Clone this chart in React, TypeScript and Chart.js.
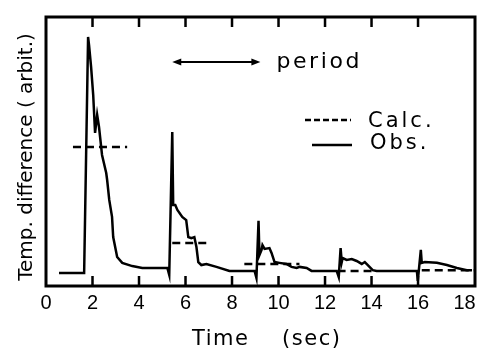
import React, { useEffect, useRef } from "react";
import { Chart, registerables } from "chart.js";

Chart.register(...registerables);

// Observed temperature difference (arbitrary units) vs time (sec)
const obsTime = [
  0.56, 1.59, 1.64, 1.81, 1.85, 1.94, 2.03, 2.11, 2.2, 2.28, 2.41, 2.59, 2.63, 2.72, 2.84, 2.89,
  3.06, 3.28, 3.71, 4.14, 5.22, 5.3, 5.43, 5.47, 5.56, 5.65, 5.86, 6.03, 6.12, 6.25, 6.38, 6.47,
  6.55, 6.68, 6.9, 7.33, 7.89, 8.97, 9.05, 9.14, 9.18, 9.27, 9.31, 9.4, 9.61, 9.7, 9.83, 10.04,
  10.34, 10.56, 10.78, 10.91, 11.21, 11.42, 12.5, 12.59, 12.67, 12.72, 12.76, 12.93, 13.15, 13.36,
  13.58, 13.71, 13.84, 14.05, 14.22, 15.95, 15.99, 16.12, 16.16, 16.29, 16.81, 17.24, 17.67, 18.1,
  18.32,
];
const obsValue = [
  4.8, 4.8, 4.8, 92.6, 89.6, 81.4, 71.0, 56.9, 63.6, 59.1, 48.7, 42.0, 39.4, 32.0, 25.7, 18.2,
  10.8, 8.6, 7.4, 6.7, 6.7, 4.1, 57.2, 30.1, 30.1, 28.3, 25.7, 24.5, 18.2, 17.8, 18.2, 14.5,
  8.9, 7.8, 8.2, 7.1, 5.6, 5.6, 3.0, 24.2, 11.5, 13.4, 15.2, 13.8, 14.1, 12.3, 8.9, 8.6,
  8.2, 7.1, 6.7, 7.1, 6.7, 5.6, 5.6, 3.3, 14.1, 8.9, 10.4, 9.7, 10.0, 9.3,
  8.2, 8.9, 7.8, 5.9, 5.6, 5.6, 1.9, 13.4, 8.6, 8.9, 8.6, 7.8, 6.7, 5.9,
  5.9,
];

// Calculated levels (dashed horizontal segments)
const calcStart = [1.16, 5.43, 8.53, 12.54, 16.16];
const calcEnd = [3.49, 6.9, 10.9, 14.0, 18.45];
const calcLevel = [51.7, 16.0, 8.2, 5.6, 5.9];

// Axis ticks
const xTickLabels = [0, 2, 4, 6, 8, 10, 12, 14, 16, 18];
const xTickMarks = [2, 4, 6, 8, 10, 12, 14, 16];

// Period arrow
const periodFrom = 5.43;
const periodTo = 9.22;
const periodLevel = 83.3;

const FONT = "'Liberation Sans', Arial, sans-serif";
const TFONT = "'DejaVu Sans', sans-serif";

const overlay = {
  id: "overlay",
  afterDraw(chart: any) {
    const ctx = chart.ctx as CanvasRenderingContext2D;
    const a = chart.chartArea;
    const xs = chart.scales.x;
    const ys = chart.scales.y;
    ctx.save();
    ctx.strokeStyle = "#000";
    ctx.fillStyle = "#000";
    ctx.lineCap = "butt";
    // frame
    ctx.lineWidth = 3;
    ctx.strokeRect(a.left, a.top, a.right - a.left, a.bottom - a.top);
    // inward ticks
    ctx.lineWidth = 2.5;
    for (const v of xTickMarks) {
      const px = xs.getPixelForValue(v);
      ctx.beginPath();
      ctx.moveTo(px, a.bottom);
      ctx.lineTo(px, a.bottom - 10);
      ctx.moveTo(px, a.top);
      ctx.lineTo(px, a.top + 10);
      ctx.stroke();
    }
    // period arrow
    const x1 = xs.getPixelForValue(periodFrom);
    const x2 = xs.getPixelForValue(periodTo);
    const ay = ys.getPixelForValue(periodLevel);
    ctx.lineWidth = 2;
    ctx.beginPath();
    ctx.moveTo(x1 + 4, ay);
    ctx.lineTo(x2 - 4, ay);
    ctx.stroke();
    const head = (tip: number, dir: number) => {
      ctx.beginPath();
      ctx.moveTo(tip, ay);
      ctx.lineTo(tip + dir * 9, ay - 3.5);
      ctx.lineTo(tip + dir * 9, ay + 3.5);
      ctx.closePath();
      ctx.fill();
    };
    head(x1, 1);
    head(x2, -1);
    (ctx as any).letterSpacing = "2.6px";
    ctx.font = `22px ${TFONT}`;
    ctx.textAlign = "left";
    ctx.textBaseline = "alphabetic";
    ctx.fillText("period", x2 + 16, ay + 6);
    // legend
    ctx.lineWidth = 2.5;
    ctx.setLineDash([6, 3]);
    ctx.beginPath();
    ctx.moveTo(305, 120);
    ctx.lineTo(351, 120);
    ctx.stroke();
    ctx.setLineDash([]);
    ctx.beginPath();
    ctx.moveTo(312, 145);
    ctx.lineTo(352, 145);
    ctx.stroke();
    (ctx as any).letterSpacing = "3px";
    ctx.font = `21px ${TFONT}`;
    ctx.fillText("Calc.", 368, 127);
    ctx.fillText("Obs.", 370, 149);
    // x title
    (ctx as any).letterSpacing = "1.5px";
    ctx.font = `21px ${TFONT}`;
    ctx.fillText("Time    (sec)", 192, 345);
    // y title
    (ctx as any).letterSpacing = "0px";
    ctx.font = `20px ${TFONT}`;
    ctx.translate(32, 157);
    ctx.rotate(-Math.PI / 2);
    ctx.textAlign = "center";
    ctx.fillText("Temp. difference ( arbit.)", 0, 0);
    ctx.restore();
  },
};

export default function App() {
  const ref = useRef<HTMLCanvasElement | null>(null);
  useEffect(() => {
    document.body.style.margin = "0";
    const calcData: any[] = [];
    calcStart.forEach((s, i) => {
      calcData.push({ x: s, y: calcLevel[i] });
      calcData.push({ x: calcEnd[i], y: calcLevel[i] });
      calcData.push({ x: calcEnd[i] + 0.01, y: null });
    });
    const chart = new Chart(ref.current as HTMLCanvasElement, {
      type: "line",
      data: {
        datasets: [
          {
            label: "Obs.",
            data: obsTime.map((t, i) => ({ x: t, y: obsValue[i] })),
            borderColor: "#000",
            borderWidth: 2.5,
            pointRadius: 0,
            tension: 0,
            fill: false,
          },
          {
            label: "Calc.",
            data: calcData,
            borderColor: "#000",
            borderWidth: 2.5,
            borderDash: [8, 5],
            pointRadius: 0,
            spanGaps: false,
            fill: false,
          },
        ],
      },
      options: {
        responsive: false,
        animation: false,
        events: [],
        layout: { padding: { top: 17, right: 6, left: 46, bottom: 0 } },
        plugins: { legend: { display: false }, tooltip: { enabled: false } },
        scales: {
          x: {
            type: "linear",
            min: 0,
            max: 18.45,
            afterBuildTicks: (s: any) => {
              s.ticks = xTickLabels.map((v) => ({ value: v }));
            },
            afterFit: (s: any) => {
              s.height = 64;
            },
            grid: { display: false, drawTicks: false },
            border: { display: false },
            ticks: {
              color: "#000",
              padding: 5,
              autoSkip: false,
              maxRotation: 0,
              font: { family: FONT, size: 20 },
              callback: (v: any) => String(v),
            },
          },
          y: {
            display: false,
            min: 0,
            max: 100,
          },
        },
      },
      plugins: [overlay],
    });
    return () => chart.destroy();
  }, []);
  return (
    <div style={{ width: 481, height: 350, background: "#fff" }}>
      <canvas ref={ref} width={481} height={350} />
    </div>
  );
}
